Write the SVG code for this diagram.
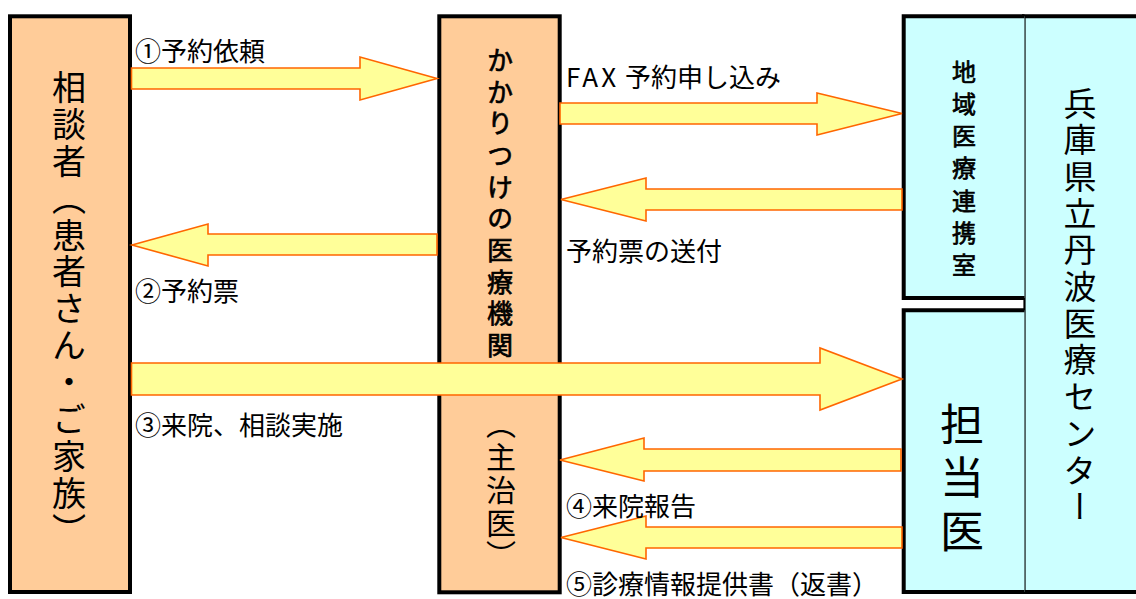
<svg xmlns="http://www.w3.org/2000/svg" width="1136" height="599" viewBox="0 0 1136 599">
<style>
.peach{fill:#FFCC99;stroke:#000;stroke-width:4}
.cyan{fill:#CCFFFF;stroke:none}
.edge{fill:none;stroke:#000;stroke-width:4}
.thin{fill:none;stroke:#000;stroke-width:2.2}
.arrow{fill:#FFFF99;stroke:#FF6600;stroke-width:1.6;stroke-linejoin:miter}
text{font-family:"Noto Sans CJK JP","Noto Sans CJK SC",sans-serif;fill:#000}
.v{writing-mode:vertical-rl}
.med{stroke:#000;stroke-width:0.7}
.lbl{font-size:26px}
</style>
<rect width="1136" height="599" fill="#fff"/>
<g id="node-soudansha">
<rect class="peach" x="10" y="16.3" width="120" height="575.7"/>
<text class="v" x="69" y="70" font-size="34" letter-spacing="2.9">相談者（患者さん・ご家族）</text>
</g>
<g id="node-kakaritsuke">
<rect class="peach" x="439.3" y="16.3" width="120.4" height="576"/>
<text class="v med" x="500" y="47" font-size="26" letter-spacing="5.67">かかりつけの医療機関</text>
<text class="v" x="501" y="409" font-size="30" letter-spacing="2.75">（主治医）</text>
</g>
<g id="node-center">
<rect class="cyan" x="1024.5" y="16.3" width="120" height="575.7"/>
<path class="edge" d="M1022 16.3H1140M1022 592H1140"/>
<line class="thin" x1="1024.5" y1="16" x2="1024.5" y2="592"/>
<text class="v" x="1080" y="86.5" font-size="33" letter-spacing="3.7">兵庫県立丹波医療センター</text>
</g>
<g id="node-chiiki">
<rect class="cyan" x="903.7" y="16.3" width="120.8" height="281.7"/>
<path class="edge" d="M1024.5 16.3H903.7V298H1024.5"/>
<text class="v med" x="964" y="59.7" font-size="24" letter-spacing="8.2">地域医療連携室</text>
</g>
<g id="node-tantoui">
<rect class="cyan" x="903.7" y="310.3" width="120.8" height="281.7"/>
<path class="edge" d="M1024.5 310.3H903.7V592H1024.5"/>
<text class="v" x="962" y="402" font-size="44" letter-spacing="9.5">担当医</text>
</g>
<g id="connectors">
<polygon class="arrow" points="131.5,68 360,68 360,57 437,78.5 360,100 360,89 131.5,89"/>
<polygon class="arrow" points="437,234 208,234 208,224 132,245 208,266 208,255 437,255"/>
<polygon class="arrow" points="560,103 817,103 817,93 902,113.5 817,135 817,124 560,124"/>
<polygon class="arrow" points="902,189 646,189 646,178 561,199.5 646,221 646,210 902,210"/>
<polygon class="arrow" points="131.5,363 820,363 820,348 902,379 820,410 820,395 131.5,395"/>
<polygon class="arrow" points="901,449 644,449 644,438 560,460 644,481 644,471 901,471"/>
<polygon class="arrow" points="902,527 646,527 646,516 561,537.5 646,559 646,548 902,548"/>
</g>
<g id="labels">
<text class="lbl" x="135" y="60.5">①予約依頼</text>
<text class="lbl" x="135" y="301">②予約票</text>
<text class="lbl" x="135" y="435">③来院、相談実施</text>
<text class="lbl" x="566" y="86.5"><tspan letter-spacing="3">FAX</tspan> 予約申し込み</text>
<text class="lbl" x="566" y="261">予約票の送付</text>
<text class="lbl" x="566" y="516">④来院報告</text>
<text class="lbl" x="566" y="594">⑤診療情報提供書（返書）</text>
</g>
</svg>
